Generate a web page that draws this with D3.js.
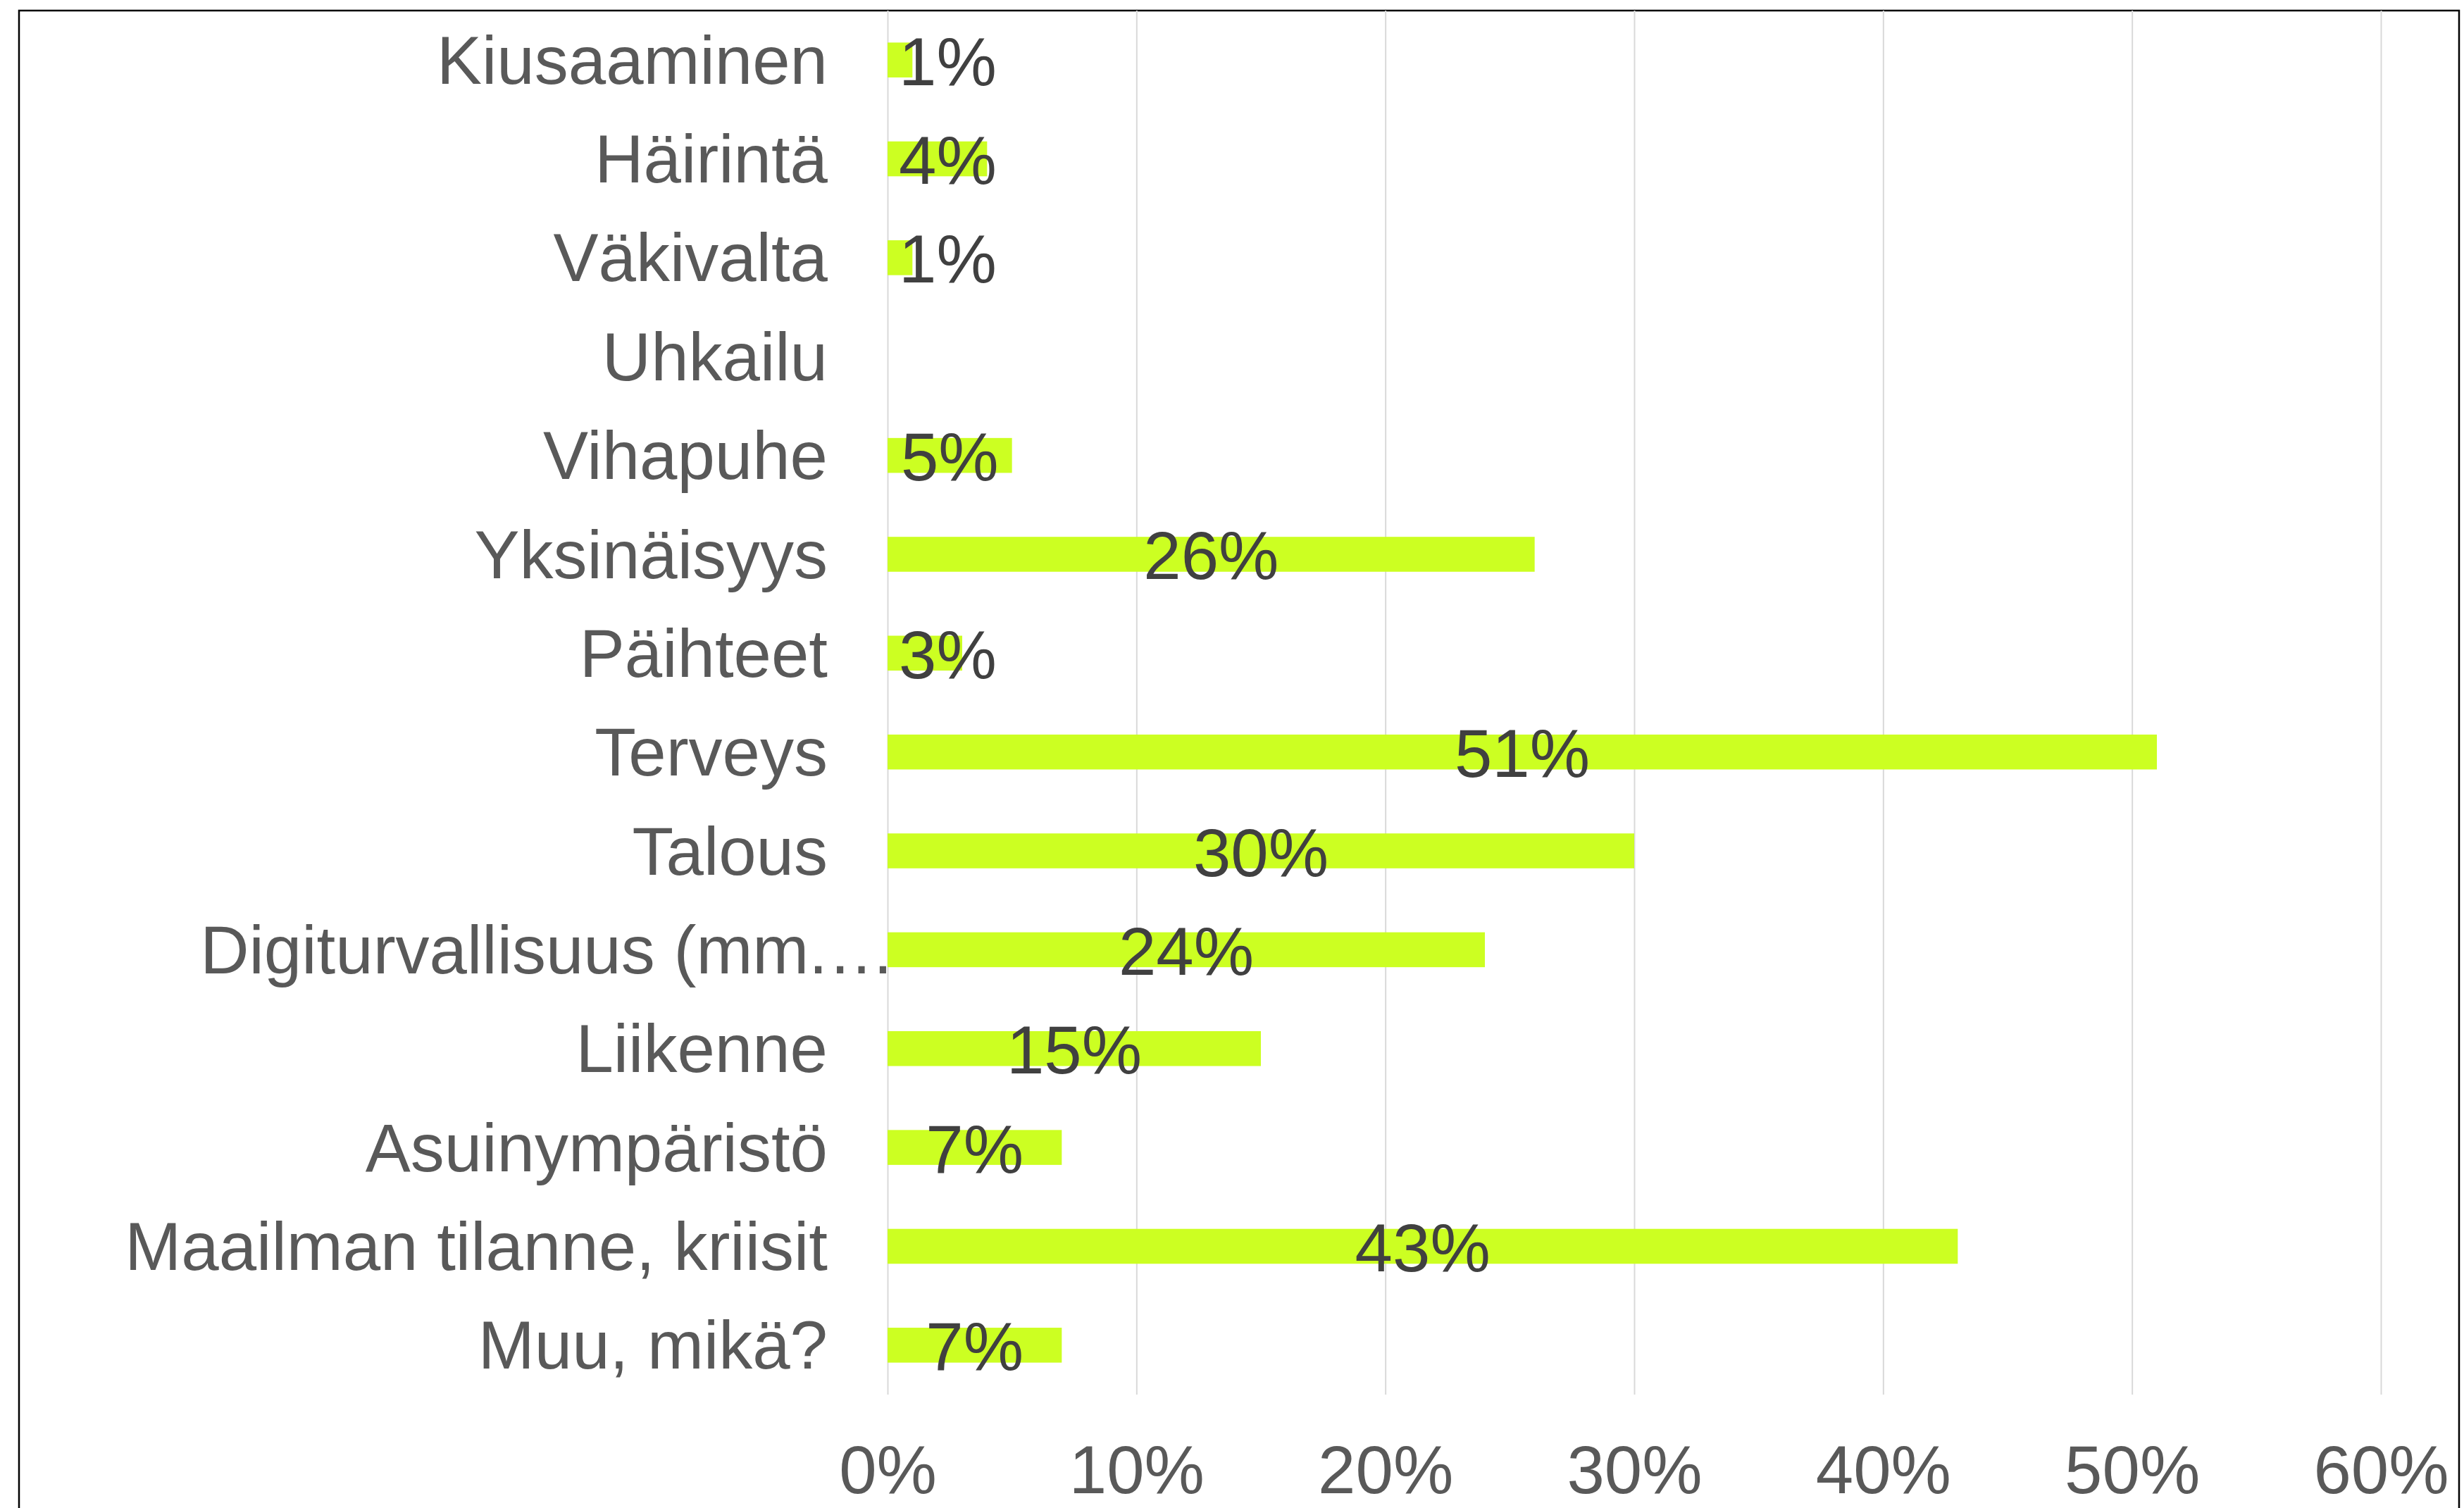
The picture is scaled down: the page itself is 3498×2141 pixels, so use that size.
<!DOCTYPE html>
<html lang="fi">
<head>
  <meta charset="UTF-8">
  <title>Huolenaiheet</title>
  <script src="https://d3js.org/d3.v7.min.js"></script>
  <style>
    body { margin: 0; background: #fff; }
    text { font-family: "Liberation Sans", Arial, sans-serif; }
    .cat { font-size: 96px; fill: #595959; }
    .val { font-size: 96px; fill: #404040; }
    .axis text { font-size: 96px; fill: #595959; }
    .axis line { stroke: #d9d9d9; stroke-width: 2px; }
    .axis path { display: none; }
    .bar { fill: #ccff22; }
  </style>
</head>
<body>
  <div id="chart"></div>
  <script>
    // categories top to bottom
    const categories = [
      "Kiusaaminen", "Häirintä", "Väkivalta", "Uhkailu", "Vihapuhe",
      "Yksinäisyys", "Päihteet", "Terveys", "Talous", "Digiturvallisuus (mm.…",
      "Liikenne", "Asuinympäristö", "Maailman tilanne, kriisit", "Muu, mikä?"
    ];
    // percent of respondents (null = no answer shown)
    const values = [1, 4, 1, null, 5, 26, 3, 51, 30, 24, 15, 7, 43, 7];
    const xTicks = [0, 10, 20, 30, 40, 50, 60];

    const W = 3498, H = 2141;
    const plotLeft = 1260, plotRight = 3380, plotTop = 15, plotBottom = 1980;

    const svg = d3.select("#chart")
      .append("svg")
      .attr("width", W)
      .attr("height", H);

    // chart frame (bottom edge is cut off in the original)
    svg.append("rect")
      .attr("x", 27).attr("y", 15)
      .attr("width", 3464).attr("height", H + 20)
      .attr("fill", "none")
      .attr("stroke", "#000")
      .attr("stroke-width", 2.5);

    const x = d3.scaleLinear()
      .domain([0, 60])
      .range([plotLeft, plotRight]);

    const y = d3.scaleBand()
      .domain(categories)
      .range([plotTop, plotBottom])
      .paddingInner(0.647)
      .paddingOuter(0.3235);

    // x axis with gridlines
    svg.append("g")
      .attr("class", "axis")
      .attr("transform", `translate(0,${plotBottom})`)
      .call(d3.axisBottom(x)
        .tickValues(xTicks)
        .tickFormat(d => d + "%")
        .tickSizeInner(-(plotBottom - plotTop))
        .tickSizeOuter(0)
        .tickPadding(72));

    // bars
    const rows = categories.map((c, i) => ({ cat: c, v: values[i] }));

    svg.selectAll(".bar")
      .data(rows.filter(d => d.v !== null))
      .enter()
      .append("rect")
      .attr("class", "bar")
      .attr("x", x(0))
      .attr("y", d => y(d.cat))
      .attr("width", d => x(d.v) - x(0))
      .attr("height", y.bandwidth());

    // category labels (truncated label: ellipsis hangs past the right edge)
    const catG = svg.append("g");
    rows.forEach(d => {
      const cy = y(d.cat) + y.bandwidth() / 2;
      const parts = d.cat.split("…");
      catG.append("text")
        .attr("class", "cat")
        .attr("x", 1175)
        .attr("y", cy)
        .attr("dy", "0.35em")
        .attr("text-anchor", "end")
        .text(parts[0]);
      if (parts.length > 1) {
        catG.append("text")
          .attr("class", "cat")
          .attr("x", 1175)
          .attr("y", cy)
          .attr("dy", "0.35em")
          .text("…");
      }
    });

    // value labels, centered in bar but kept clear of the axis
    svg.selectAll(".val")
      .data(rows.filter(d => d.v !== null))
      .enter()
      .append("text")
      .attr("class", "val")
      .attr("text-anchor", "middle")
      .attr("y", d => y(d.cat) + y.bandwidth() / 2)
      .attr("dy", "0.37em")
      .text(d => d.v + "%")
      .attr("x", function(d) {
        const w = this.getComputedTextLength();
        const c = (x(0) + x(d.v)) / 2;
        return Math.max(c, x(0) + 16 + w / 2);
      });
  </script>
</body>
</html>
